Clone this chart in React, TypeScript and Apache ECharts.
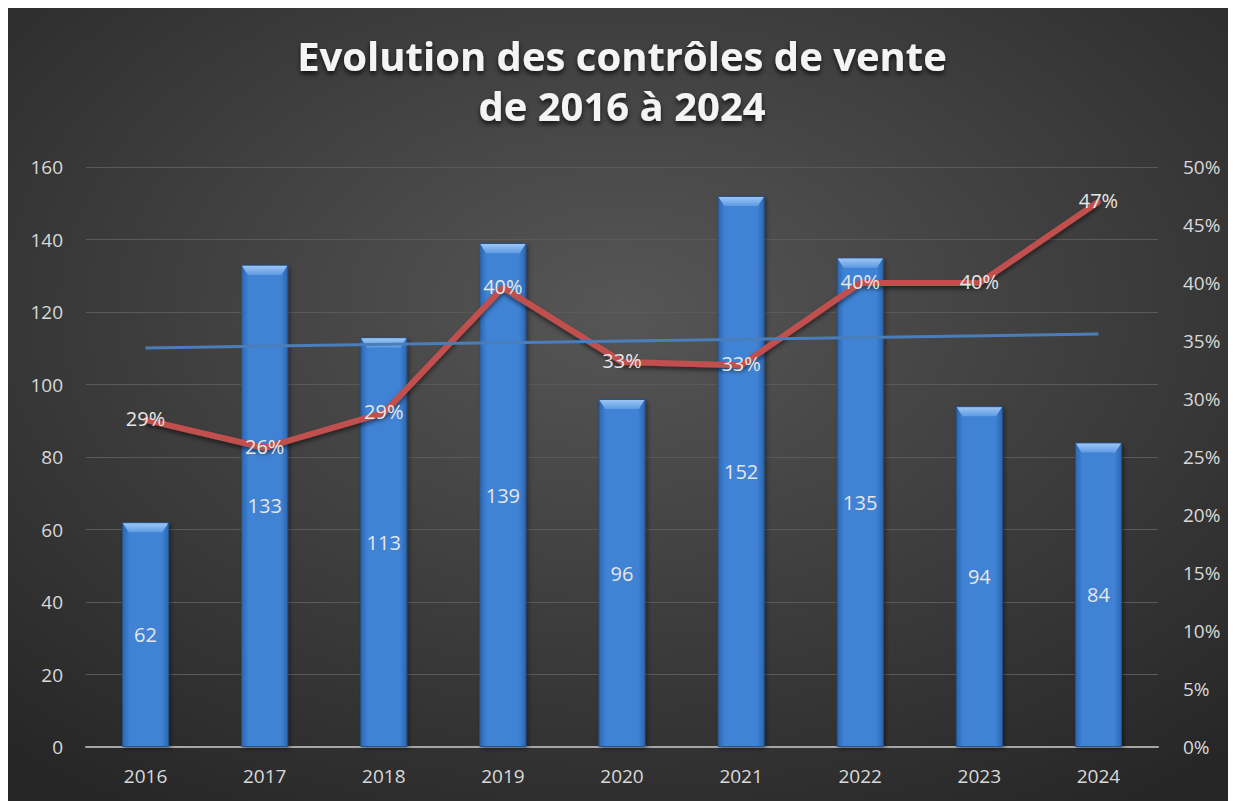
import React, { useEffect, useRef } from "react";
import * as echarts from "echarts";

const years = ["2016", "2017", "2018", "2019", "2020", "2021", "2022", "2023", "2024"];
const controls = [62, 133, 113, 139, 96, 152, 135, 94, 84];
const rates = [0.282, 0.258, 0.288, 0.396, 0.332, 0.329, 0.4, 0.4, 0.47];
const rateLabels = ["29%", "26%", "29%", "40%", "33%", "33%", "40%", "40%", "47%"];
const trendStart = 110.1;
const trendEnd = 113.9;
const titleText = "Evolution des contrôles de vente\nde 2016 à 2024";

export default function App() {
  const ref = useRef<HTMLDivElement>(null);
  useEffect(() => {
    document.body.style.overflow = "hidden";
    const chart = echarts.init(ref.current!, null, { renderer: "svg" });
    const font = "Open Sans";
    chart.setOption({
      animation: false,
      backgroundColor: {
        type: "radial",
        x: 0.5,
        y: 0.38,
        r: 0.75,
        colorStops: [
          { offset: 0, color: "#565656" },
          { offset: 1, color: "#262626" },
        ],
      },
      title: {
        text: titleText,
        left: "center",
        top: 17,
        textStyle: {
          color: "#f4f4f4",
          fontFamily: font,
          fontWeight: "bold",
          fontSize: 40,
          lineHeight: 50,
          textShadowColor: "rgba(0,0,0,0.75)",
          textShadowBlur: 5,
          textShadowOffsetY: 3,
        },
      },
      grid: { left: 78, right: 78, top: 159, bottom: 54 },
      xAxis: {
        type: "category",
        data: years,
        axisLine: { lineStyle: { color: "#a6a6a6", width: 2 } },
        axisTick: { show: false },
        axisLabel: { color: "#d9d9d9", fontFamily: font, fontSize: 19, margin: 19 },
      },
      yAxis: [
        {
          type: "value",
          min: 0,
          max: 160,
          interval: 20,
          axisLabel: { color: "#d9d9d9", fontFamily: font, fontSize: 19, margin: 23 },
          splitLine: { lineStyle: { color: "#5a5a5a", width: 1 } },
          axisLine: { show: false },
        },
        {
          type: "value",
          min: 0,
          max: 0.5,
          interval: 0.05,
          axisLabel: {
            color: "#d9d9d9",
            fontFamily: font,
            fontSize: 19,
            margin: 25,
            formatter: (v: number) => Math.round(v * 100) + "%",
          },
          splitLine: { show: false },
          axisLine: { show: false },
        },
      ],
      series: [
        {
          type: "bar",
          data: controls,
          barWidth: 47,
          z: 2,
          itemStyle: {
            color: {
              type: "linear",
              x: 0,
              y: 0,
              x2: 1,
              y2: 0,
              colorStops: [
                { offset: 0, color: "#2c66b0" },
                { offset: 0.15, color: "#3f82d4" },
                { offset: 0.85, color: "#3f82d4" },
                { offset: 1, color: "#2c66b0" },
              ],
            },
            borderColor: "#24548f",
            borderWidth: 1,
            shadowColor: "rgba(0,0,0,0.4)",
            shadowBlur: 4,
            shadowOffsetX: 2,
            shadowOffsetY: 2,
          },
          label: {
            show: true,
            position: "inside",
            color: "#e6e6e6",
            fontFamily: font,
            fontSize: 20,
          },
        },
        {
          type: "pictorialBar",
          data: controls,
          z: 2.5,
          silent: true,
          symbol: "path://M0,0L47,0L41,9L6,9Z",
          symbolSize: [45, 9],
          symbolPosition: "end",
          symbolOffset: [0, 1],
          itemStyle: {
            color: {
              type: "linear",
              x: 0,
              y: 0,
              x2: 0,
              y2: 1,
              colorStops: [
                { offset: 0, color: "#9cc6f5" },
                { offset: 1, color: "#5d9ae3" },
              ],
            },
          },
          label: { show: false },
        },
        {
          type: "line",
          data: [],
          z: 3,
          markLine: {
            silent: true,
            symbol: ["none", "none"],
            label: { show: false },
            lineStyle: { color: "#4a7ebb", width: 3, type: "solid" },
            data: [[{ coord: [0, trendStart] }, { coord: [8, trendEnd] }]],
          },
        },
        {
          type: "line",
          yAxisIndex: 1,
          data: rates,
          z: 4,
          symbol: "circle",
          symbolSize: 5,
          showSymbol: true,
          lineStyle: {
            color: "#c0504d",
            width: 6,
            shadowColor: "rgba(0,0,0,0.5)",
            shadowBlur: 4,
            shadowOffsetY: 3,
          },
          itemStyle: { color: "#c0504d", borderWidth: 0 },
          label: {
            show: true,
            position: "top",
            distance: 0,
            offset: [0, 11],
            color: "#e6e6e6",
            fontFamily: font,
            fontSize: 20,
            formatter: (p: any) => rateLabels[p.dataIndex],
          },
        },
      ],
    });
    return () => chart.dispose();
  }, []);
  return <div ref={ref} style={{ width: 1228, height: 793 }} />;
}
